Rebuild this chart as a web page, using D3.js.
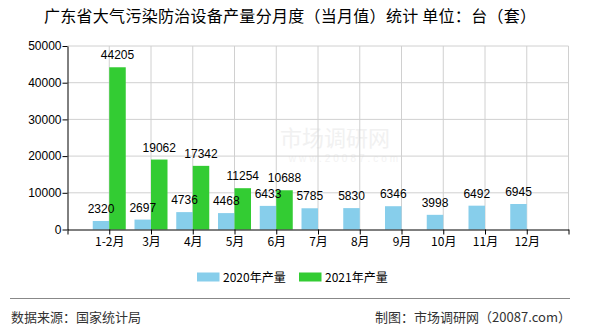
<!DOCTYPE html>
<html>
<head>
<meta charset="utf-8">
<script src="https://cdn.jsdelivr.net/npm/d3@7/dist/d3.min.js"></script>
<style>
  html, body { margin: 0; padding: 0; background: #fff; }
  svg { display: block; }
  text { font-family: "Liberation Sans", "Noto Sans CJK SC", sans-serif; }
</style>
</head>
<body>
<svg id="chart" width="590" height="330"></svg>
<script>
const categories = ["1-2月", "3月", "4月", "5月", "6月", "7月", "8月", "9月", "10月", "11月", "12月"];
const values2020 = [2320, 2697, 4736, 4468, 6433, 5785, 5830, 6346, 3998, 6492, 6945];
const values2021 = [44205, 19062, 17342, 11254, 10688];
const seriesNames = ["2020年产量", "2021年产量"];
const yTicks = [0, 10000, 20000, 30000, 40000, 50000];
const titleText = "广东省大气污染防治设备产量分月度（当月值）统计 单位：台（套）";
const sourceText = "数据来源：国家统计局";
const creditText = "制图：市场调研网（20087.com）";

const colors = ["#87CEEB", "#33CC33"];
const svg = d3.select("#chart");
const pLeft = 67.5, pRight = 568.5, pTop = 46, pBottom = 229.5;

const x = d3.scalePoint().domain(["", ...categories, " "]).range([pLeft, pRight]).padding(0);
const y = d3.scaleLinear().domain([0, 50000]).range([pBottom, pTop]);
const barW = 16.5;

// title
svg.append("text").attr("x", 44).attr("y", 22).attr("text-anchor", "start")
  .attr("textLength", 492).attr("lengthAdjust", "spacing")
  .style("font-family", "'Noto Sans CJK SC', sans-serif")
  .style("font-size", "16px").attr("fill", "#000").text(titleText);

// watermark
svg.append("text").attr("x", 335).attr("y", 146).attr("text-anchor", "middle")
  .style("font-family", "'Noto Sans CJK SC', sans-serif")
  .style("font-size", "22px").attr("fill", "#f1f1f1").text("市场调研网");
svg.append("text").attr("x", 345).attr("y", 162).attr("text-anchor", "middle")
  .style("font-size", "10px").attr("fill", "#f3f3f3").attr("letter-spacing", "3").text("www.20087.com");

// horizontal gridlines
svg.append("g").selectAll("line").data(yTicks.slice(1)).join("line")
  .attr("x1", pLeft).attr("x2", pRight).attr("y1", d => y(d)).attr("y2", d => y(d))
  .attr("stroke", "#d0d0d0").attr("stroke-width", 1);
// vertical gridlines
svg.append("g").selectAll("line").data([...categories, " "]).join("line")
  .attr("x1", d => x(d)).attr("x2", d => x(d)).attr("y1", pTop).attr("y2", pBottom)
  .attr("stroke", "#d0d0d0").attr("stroke-width", 1);

// bars
svg.append("g").selectAll("rect").data(values2020).join("rect")
  .attr("x", (d, i) => x(categories[i]) - barW).attr("width", barW)
  .attr("y", d => y(d)).attr("height", d => pBottom - y(d)).attr("fill", colors[0]);
svg.append("g").selectAll("rect").data(values2021).join("rect")
  .attr("x", (d, i) => x(categories[i])).attr("width", barW)
  .attr("y", d => y(d)).attr("height", d => pBottom - y(d)).attr("fill", colors[1]);

// value labels
svg.append("g").selectAll("text").data(values2020).join("text")
  .attr("x", (d, i) => x(categories[i]) - barW / 2).attr("y", d => y(d) - 8)
  .attr("text-anchor", "middle").style("font-size", "12px").attr("fill", "#000").text(d => d);
svg.append("g").selectAll("text").data(values2021).join("text")
  .attr("x", (d, i) => x(categories[i]) + barW / 2).attr("y", d => y(d) - 8)
  .attr("text-anchor", "middle").style("font-size", "12px").attr("fill", "#000").text(d => d);

// axes
const yAxis = svg.append("g").attr("transform", `translate(${pLeft},0)`)
  .call(d3.axisLeft(y).tickValues(yTicks).tickSize(5).tickSizeOuter(0).tickFormat(d3.format("d")));
yAxis.selectAll("text").style("font-size", "12px").attr("fill", "#000").attr("x", -6);
yAxis.selectAll("line, path").attr("stroke", "#000");

const xAxis = svg.append("g").attr("transform", `translate(0,${pBottom})`)
  .call(d3.axisBottom(x).tickValues(["", ...categories, " "]).tickSize(5).tickSizeOuter(0));
xAxis.selectAll("text").style("font-family", "'Noto Sans CJK SC', sans-serif")
  .style("font-size", "12px").attr("fill", "#000").attr("dy", "0.9em").attr("y", 6);
xAxis.selectAll("line, path").attr("stroke", "#000");

// legend
const legend = svg.append("g");
const lx = [197, 299];
seriesNames.forEach((n, i) => {
  legend.append("rect").attr("x", lx[i]).attr("y", 272.5).attr("width", 22.5).attr("height", 9).attr("fill", colors[i]);
  legend.append("text").attr("x", lx[i] + 26).attr("y", 282)
    .style("font-family", "'Noto Sans CJK SC', sans-serif")
    .style("font-size", "12px").attr("fill", "#000").text(n);
});

// footer
svg.append("line").attr("x1", 10).attr("x2", 570).attr("y1", 298.5).attr("y2", 298.5)
  .attr("stroke", "#888").attr("stroke-width", 1);
svg.append("text").attr("x", 11).attr("y", 322)
  .style("font-family", "'Noto Sans CJK SC', sans-serif")
  .style("font-size", "13px").attr("fill", "#333").text(sourceText);
svg.append("text").attr("x", 571).attr("y", 322).attr("text-anchor", "end")
  .style("font-family", "'Noto Sans CJK SC', sans-serif")
  .style("font-size", "13px").attr("fill", "#333").text(creditText);
</script>
</body>
</html>
